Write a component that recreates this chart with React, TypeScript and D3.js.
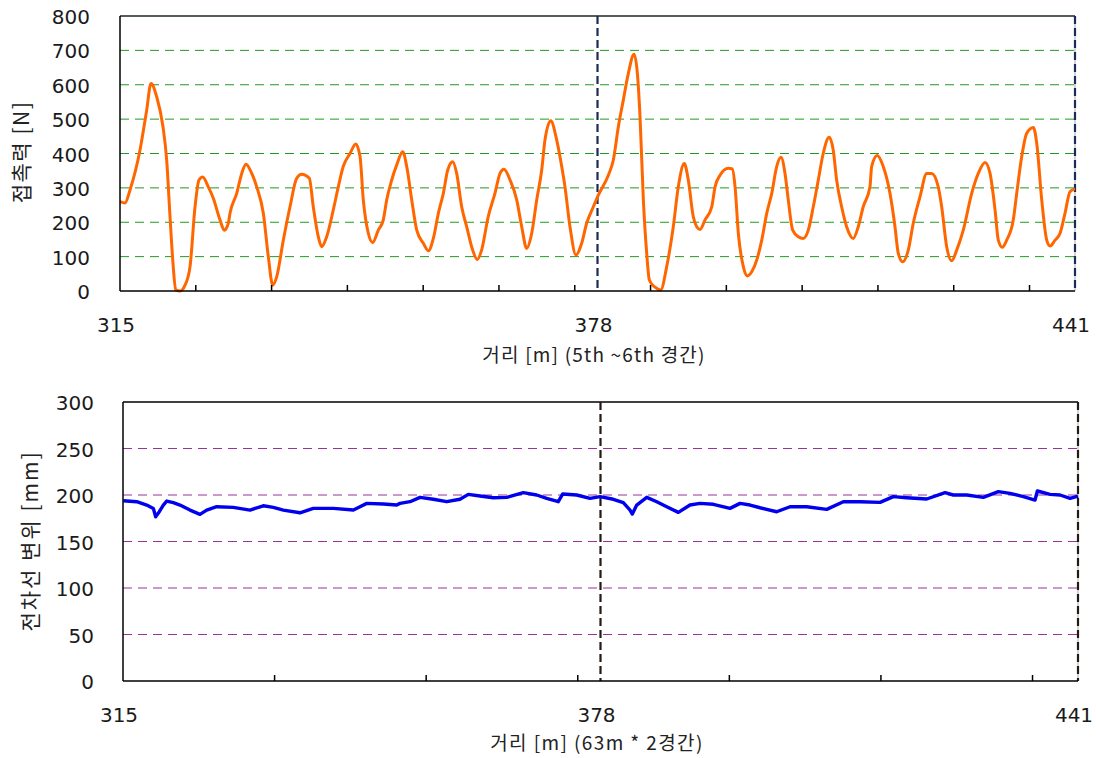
import React from "react";
import * as d3 from "d3";

// contact force (top) - distance [m] / force [N]
const forceDist = [
  315.0, 315.66, 316.32, 317.64, 318.52, 319.09, 319.84, 320.67, 321.16, 321.6, 321.99, 322.35, 322.92, 323.58,
  324.24, 324.9, 325.42, 325.91, 326.65, 327.31, 328.19, 328.76, 329.29, 329.51, 330.4, 331.06, 331.62, 332.38,
  333.04, 333.91, 334.57, 335.15, 335.68, 336.55, 337.43, 338.31, 338.97, 339.98, 340.5, 341.16, 341.61, 342.27,
  343.14, 343.8, 344.45, 345.35, 346.1, 346.67, 347.1, 347.76, 348.34, 349.08, 349.74, 350.19, 350.85, 351.51,
  352.3, 352.83, 353.49, 354.15, 355.02, 355.68, 356.34, 357.0, 357.66, 358.24, 358.9, 359.42, 360.08, 360.74,
  361.53, 362.13, 362.71, 363.58, 364.47, 365.14, 365.66, 366.46, 367.34, 368.0, 368.66, 369.32, 369.98, 370.64,
  371.07, 371.83, 372.62, 373.28, 373.71, 374.37, 375.16, 375.91, 376.57, 377.45, 378.11, 379.43, 380.09, 380.75,
  381.41, 382.07, 382.82, 383.26, 383.61, 384.05, 384.49, 384.84, 385.59, 386.34, 387.13, 388.0, 388.66, 389.45,
  389.98, 390.64, 391.09, 391.53, 392.19, 393.07, 393.51, 394.17, 395.26, 395.79, 396.15, 396.58, 397.24, 397.77,
  398.35, 399.01, 399.67, 400.33, 400.99, 401.64, 402.21, 402.74, 403.17, 403.75, 404.49, 405.15, 405.81, 406.47,
  407.13, 407.78, 408.57, 409.1, 409.55, 410.21, 410.87, 411.74, 412.4, 413.06, 413.95, 414.17, 414.91, 415.7,
  416.59, 417.25, 417.68, 418.26, 419.0, 419.66, 420.55, 421.43, 422.09, 422.96, 423.41, 424.07, 424.73, 425.39,
  426.26, 427.37, 428.24, 429.13, 429.79, 430.45, 430.88, 431.41, 431.99, 432.86, 433.31, 433.97, 434.63, 435.5,
  435.95, 436.61, 437.27, 437.71, 438.37, 439.03, 439.68, 440.34, 441.0,
];
const forceVal = [
  260, 256, 294, 410, 526, 604, 565, 478, 381, 216, 81, 3, 0, 17,
  71, 245, 323, 332, 303, 270, 207, 177, 197, 226, 284, 342, 369, 342,
  303, 226, 100, 17, 42, 148, 245, 328, 340, 328, 245, 158, 129, 158,
  236, 303, 362, 400, 428, 391, 265, 168, 141, 177, 207, 265, 323, 367,
  405, 362, 265, 177, 139, 117, 153, 226, 284, 352, 376, 342, 245, 187,
  119, 92, 119, 216, 284, 342, 354, 323, 265, 187, 124, 168, 265, 352,
  439, 495, 439, 362, 303, 187, 105, 139, 197, 245, 279, 337, 381, 478,
  556, 633, 689, 633, 507, 265, 110, 32, 11, 3, 71, 187, 303, 371,
  323, 216, 187, 179, 207, 245, 303, 337, 357, 355, 303, 168, 71, 44,
  56, 90, 148, 226, 284, 362, 389, 342, 265, 177, 158, 153, 177, 245,
  323, 400, 447, 410, 323, 245, 187, 153, 187, 245, 303, 362, 394, 362,
  284, 187, 110, 85, 119, 197, 274, 342, 342, 303, 245, 129, 88, 119,
  177, 284, 342, 374, 342, 236, 148, 127, 148, 207, 284, 391, 459, 476,
  430, 265, 148, 131, 148, 168, 226, 289, 297,
];

// contact wire displacement (bottom) - distance [m] / displacement [mm]
const dispDist = [
  315.04, 316.81, 318.13, 319.0, 319.31, 319.79, 320.32, 320.77, 321.64, 322.52, 323.84, 325.16, 326.04, 327.36,
  329.55, 331.76, 333.51, 334.83, 336.15, 338.35, 340.11, 342.75, 345.39, 346.27, 347.16, 349.34, 351.11, 351.55,
  352.87, 354.19, 355.94, 357.71, 359.46, 360.56, 362.1, 363.86, 365.63, 367.82, 369.58, 370.9, 372.43, 373.02,
  374.86, 376.62, 377.94, 379.69, 381.01, 381.9, 382.2, 382.78, 384.1, 385.42, 386.74, 388.27, 389.81, 391.13,
  392.89, 395.09, 396.41, 397.73, 399.05, 401.25, 403.01, 405.21, 407.85, 410.04, 412.24, 414.88, 416.64, 418.4,
  421.04, 423.46, 424.55, 426.32, 428.51, 430.49, 432.03, 433.79, 435.33, 435.64, 437.31, 438.63, 439.95, 441.0,
];
const dispVal = [
  193.8, 192.8, 189.2, 185.6, 176.6, 182, 189.2, 193.5, 191.7, 189.2, 183.8, 179.2, 183.8, 187.4,
  186.7, 183.8, 188.4, 186.7, 183.8, 180.9, 185.6, 185.6, 183.8, 187.4, 191, 190.3, 189.2, 191,
  192.8, 197.5, 195.4, 192.8, 195.4, 200.7, 198.9, 197.1, 197.5, 202.5, 200, 196.4, 192.8, 201.1,
  200, 196.4, 198.2, 195.4, 191.7, 183.8, 179.5, 189.2, 197.5, 192.8, 187.4, 181.3, 189.2, 191,
  190, 185.6, 191, 189.2, 186.3, 182, 187.4, 187.4, 184.5, 192.8, 192.8, 192.1, 198.2, 197.1,
  195.7, 202.5, 200, 200, 197.5, 203.6, 201.8, 198.2, 194.6, 204.3, 200.7, 200, 196.4, 198.9,
];

const xLabelTicks = [315, 378, 441];
const spanLines = [378, 441];
const forceTicks = [0, 100, 200, 300, 400, 500, 600, 700, 800];
const dispTicks = [0, 50, 100, 150, 200, 250, 300];

const numFont = "'DejaVu Sans', 'Noto Sans CJK KR', sans-serif";
const korFont = "'Noto Sans CJK KR', 'DejaVu Sans', sans-serif";

export default function App() {
  // top panel
  const x1 = d3.scaleLinear().domain([315, 441]).range([120, 1075]);
  const y1 = d3.scaleLinear().domain([0, 800]).range([291, 16]);
  // bottom panel
  const x2 = d3.scaleLinear().domain([315, 441]).range([123, 1078]);
  const y2 = d3.scaleLinear().domain([0, 300]).range([681, 402]);

  const forceLine = d3
    .line<number>()
    .x((_, i) => x1(forceDist[i]))
    .y((d) => y1(d))
    .curve(d3.curveMonotoneX)(forceVal);

  const dispLine = d3
    .line<number>()
    .x((_, i) => x2(dispDist[i]))
    .y((d) => y2(d))(dispVal);

  const minor1 = d3.range(325, 441, 10);
  const minor2 = d3.range(335, 441, 20);

  return (
    <svg width={1096} height={758} style={{ position: "absolute", left: 0, top: 0, background: "#fff" }}>
      {/* ---------- top: 접촉력 ---------- */}
      {forceTicks.slice(1, -1).map((t) => (
        <line key={"g1" + t} x1={x1(315)} x2={x1(441)} y1={y1(t)} y2={y1(t)}
          stroke="#229922" strokeWidth={1} strokeDasharray="9,6" />
      ))}
      <line x1={x1(315)} x2={x1(441)} y1={y1(800)} y2={y1(800)} stroke="#1a2a1a" strokeWidth={1.5} />
      <line x1={x1(441)} x2={x1(441)} y1={y1(800)} y2={y1(0)} stroke="#aaa" strokeWidth={1} />
      {spanLines.map((s) => (
        <line key={"s1" + s} x1={x1(s)} x2={x1(s)} y1={y1(800)} y2={y1(0)}
          stroke="#1c2b55" strokeWidth={2.2} strokeDasharray="8,4" />
      ))}
      <path d={forceLine || ""} fill="none" stroke="#ff6600" strokeWidth={3} strokeLinejoin="round" />
      <line x1={x1(315)} x2={x1(315)} y1={y1(800)} y2={y1(0)} stroke="#000" strokeWidth={1.5} />
      <line x1={x1(315)} x2={x1(441)} y1={y1(0)} y2={y1(0)} stroke="#000" strokeWidth={1.5} />
      {minor1.map((t) => (
        <line key={"m1" + t} x1={x1(t)} x2={x1(t)} y1={y1(0)} y2={y1(0) - 6} stroke="#000" strokeWidth={1.5} />
      ))}
      {forceTicks.map((t) => (
        <text key={"yl1" + t} x={90} y={y1(t) + 1} textAnchor="end" dominantBaseline="central"
          fontFamily={numFont} fontSize={20} fill="#1a1a1a">{t}</text>
      ))}
      {xLabelTicks.map((t) => (
        <text key={"xl1" + t} x={x1(t) - 4} y={332} textAnchor="middle"
          fontFamily={numFont} fontSize={20} fill="#1a1a1a">{t}</text>
      ))}
      <text x={594} y={362} textAnchor="middle" fontFamily={korFont} fontSize={19} letterSpacing={1.2} fill="#222">
        거리 [m] (5th ~6th 경간)
      </text>
      <text transform="translate(29,152) rotate(-90)" textAnchor="middle"
        fontFamily={korFont} fontSize={21} letterSpacing={1.5} fill="#222">접촉력 [N]</text>

      {/* ---------- bottom: 전차선 변위 ---------- */}
      {dispTicks.slice(1, -1).map((t) => (
        <line key={"g2" + t} x1={x2(315)} x2={x2(441)} y1={y2(t)} y2={y2(t)}
          stroke="#993399" strokeWidth={1} strokeDasharray="9,6" />
      ))}
      <line x1={x2(315)} x2={x2(441)} y1={y2(300)} y2={y2(300)} stroke="#000" strokeWidth={1.5} />
      <line x1={x2(441)} x2={x2(441)} y1={y2(300)} y2={y2(0)} stroke="#aaa" strokeWidth={1} />
      {spanLines.map((s) => (
        <line key={"s2" + s} x1={x2(s)} x2={x2(s)} y1={y2(300)} y2={y2(0)}
          stroke="#221a14" strokeWidth={2.2} strokeDasharray="8,4" />
      ))}
      <path d={dispLine || ""} fill="none" stroke="#0000ee" strokeWidth={3.4} strokeLinejoin="round" />
      <line x1={x2(315)} x2={x2(315)} y1={y2(300)} y2={y2(0)} stroke="#000" strokeWidth={1.5} />
      <line x1={x2(315)} x2={x2(441)} y1={y2(0)} y2={y2(0)} stroke="#000" strokeWidth={1.5} />
      {minor2.map((t) => (
        <line key={"m2" + t} x1={x2(t)} x2={x2(t)} y1={y2(0)} y2={y2(0) - 6} stroke="#000" strokeWidth={1.5} />
      ))}
      {dispTicks.map((t) => (
        <text key={"yl2" + t} x={94} y={y2(t) + 1} textAnchor="end" dominantBaseline="central"
          fontFamily={numFont} fontSize={20} fill="#1a1a1a">{t}</text>
      ))}
      {xLabelTicks.map((t) => (
        <text key={"xl2" + t} x={x2(t) - 4} y={722} textAnchor="middle"
          fontFamily={numFont} fontSize={20} fill="#1a1a1a">{t}</text>
      ))}
      <text x={597} y={750} textAnchor="middle" fontFamily={korFont} fontSize={19} letterSpacing={1.4} fill="#222">
        거리 [m] (63m * 2경간)
      </text>
      <text transform="translate(38,541) rotate(-90)" textAnchor="middle"
        fontFamily={korFont} fontSize={21} letterSpacing={2} fill="#222">전차선 변위 [mm]</text>
    </svg>
  );
}
